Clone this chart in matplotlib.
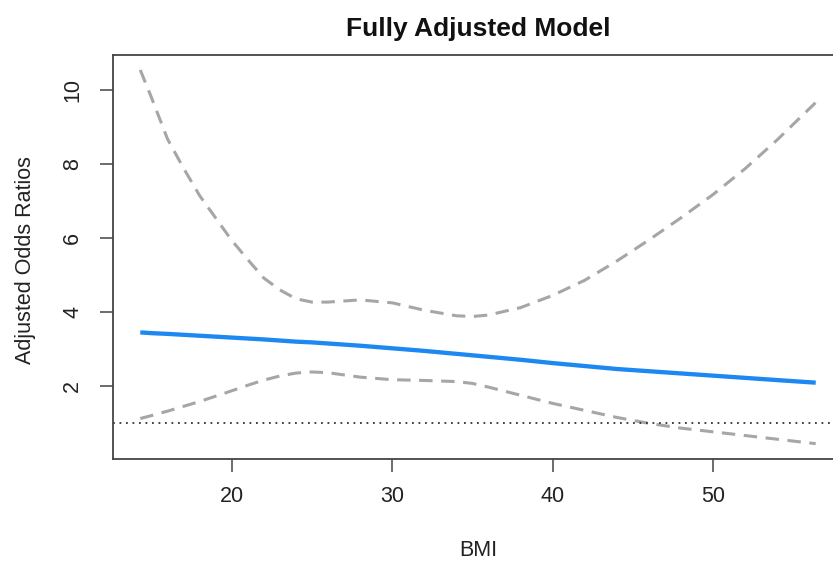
import matplotlib
matplotlib.use("Agg")
from matplotlib import pyplot as plt

# BMI values
bmi = [14.3, 15, 16, 17, 18, 20, 21, 22, 23, 24, 25, 26, 28, 30, 32, 34, 35, 36,
       38, 40, 42, 44, 46, 48, 50, 52, 54, 56.4]

# adjusted odds ratio (spline fit) and its confidence band
odds_ratio = [3.45, 3.43, 3.41, 3.385, 3.36, 3.31, 3.285, 3.26, 3.23, 3.20, 3.18, 3.15, 3.09, 3.02,
              2.95, 2.87, 2.83, 2.79, 2.71, 2.62, 2.54, 2.46, 2.40, 2.34, 2.28, 2.22, 2.16, 2.09]
upper_ci = [10.55, 9.80, 8.68, 7.89, 7.15, 5.94, 5.42, 4.92, 4.60, 4.36, 4.27, 4.27, 4.33, 4.25,
            4.05, 3.90, 3.88, 3.92, 4.12, 4.45, 4.86, 5.38, 5.95, 6.55, 7.18, 7.88, 8.66, 9.67]
lower_ci = [1.12, 1.20, 1.32, 1.45, 1.58, 1.87, 2.02, 2.16, 2.27, 2.35, 2.38, 2.36, 2.24, 2.17,
            2.15, 2.12, 2.07, 1.97, 1.75, 1.53, 1.34, 1.15, 0.99, 0.86, 0.76, 0.66, 0.56, 0.44]

x_ticks = [20, 30, 40, 50]
y_ticks = [2, 4, 6, 8, 10]
reference_or = 1

plt.rcParams['font.family'] = ['Liberation Sans', 'DejaVu Sans']

W, H = 833, 562
fig = plt.figure(figsize=(W / 100, H / 100), dpi=100)
# box runs past the right edge of the picture, like in the reference
ax = fig.add_axes([113 / W, 1 - 459 / H, (843 - 113) / W, (459 - 55) / H])

ax.plot(bmi, upper_ci, color='#a6a6a6', lw=2.2, dashes=(4.4, 2.8))
ax.plot(bmi, lower_ci, color='#a6a6a6', lw=2.2, dashes=(4.4, 2.8))
ax.plot(bmi, odds_ratio, color='#1e88f2', lw=3.1, solid_capstyle='butt')
ax.axhline(reference_or, color='#333333', lw=1.3, dashes=(1, 2.6))

ax.set_xlim(12.6, 58.1)
ax.set_ylim(0.025, 10.955)
ax.set_xticks(x_ticks)
ax.set_yticks(y_ticks)

for side in ax.spines.values():
    side.set_color('#444444')
    side.set_linewidth(1.3)

ax.tick_params(axis='both', length=9.5, width=1.1, color='#444444',
               labelsize=15.5, labelcolor='#222222')
ax.tick_params(axis='x', pad=10)
ax.tick_params(axis='y', pad=12, labelrotation=90)
for lbl in ax.get_yticklabels():
    lbl.set_va('center')

# titles placed in figure pixels
fig.text(478 / W, 1 - 29 / H, 'Fully Adjusted Model', fontsize=19, fontweight='bold',
         ha='center', va='center', color='#111111')
fig.text(478 / W, 1 - 550 / H, 'BMI', fontsize=15.5, ha='center', va='center', color='#222222')
fig.text(25.5 / W, 1 - 260 / H, 'Adjusted Odds Ratios', fontsize=15.5, rotation=90,
         ha='center', va='center', color='#222222')

fig.savefig('out.png', dpi=100)
plt.close(fig)
